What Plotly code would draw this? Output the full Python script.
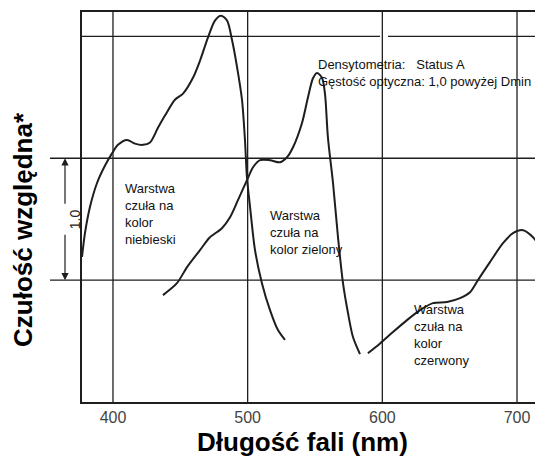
import plotly.graph_objects as go

# Spectral sensitivity curves (wavelength nm, relative log sensitivity)
blue_nm = [377.0, 379.2, 382.9, 388.1, 394.1, 399.3, 403.7, 410.4, 416.3, 422.3, 427.5, 433.4,
           438.6, 446.0, 452.0, 459.4, 464.6, 470.5, 475.7, 480.2, 484.7, 488.4, 492.1, 495.8,
           498.0, 499.5, 501.7, 505.4, 510.6, 516.6, 522.5, 527.7]
blue_s = [1.19, 1.385, 1.60, 1.795, 1.94, 2.04, 2.11, 2.15, 2.12, 2.11, 2.13, 2.25,
          2.35, 2.48, 2.53, 2.66, 2.80, 2.99, 3.13, 3.17, 3.13, 2.97, 2.75, 2.48,
          2.15, 1.84, 1.61, 1.25, 0.975, 0.754, 0.59, 0.51]

green_nm = [437.1, 447.5, 455.0, 464.6, 472.0, 480.9, 486.9, 492.8, 499.5, 504.0, 509.2, 516.6,
            524.0, 529.2, 533.7, 540.3, 544.8, 548.5, 551.5, 555.2, 557.4, 559.6, 563.4, 567.1,
            570.8, 574.5, 578.2, 583.4]
green_s = [0.877, 0.975, 1.107, 1.246, 1.352, 1.426, 1.516, 1.656, 1.82, 1.926, 1.984, 1.984,
           1.967, 2.008, 2.09, 2.287, 2.50, 2.656, 2.70, 2.66, 2.53, 2.17, 1.795, 1.35,
           0.975, 0.73, 0.533, 0.393]

red_nm = [589.3, 598.3, 607.9, 618.3, 628.0, 637.6, 648.0, 657.7, 665.1, 671.0, 679.9, 689.6,
          697.0, 704.5, 711.9, 718.6]
red_s = [0.40, 0.48, 0.574, 0.672, 0.754, 0.811, 0.82, 0.852, 0.90, 1.0, 1.148, 1.303,
         1.385, 1.41, 1.352, 1.246]

x_ticks = [400, 500, 600, 700]
h_lines = [1, 2, 3]

LINE = "#1e1e1e"
FONT = "Liberation Sans, Arial, sans-serif"

# page body has an 8px margin; compensate so the plot lands where the reference has it
OFF = 8
W, H = 543 - OFF, 459 - OFF
ML, MT, MB = 82 - OFF, 12 - OFF, 57
PW, PH = W - ML, H - MT - MB

fig = go.Figure()
for xs, ys in [(blue_nm, blue_s), (green_nm, green_s), (red_nm, red_s)]:
    fig.add_trace(go.Scatter(x=xs, y=ys, mode="lines",
                             line=dict(color=LINE, width=2, shape="spline", smoothing=0.8),
                             hoverinfo="skip", showlegend=False))

shapes = []
for v in x_ticks:
    shapes.append(dict(type="line", xref="x", yref="paper", x0=v, x1=v, y0=0, y1=1,
                       line=dict(color=LINE, width=1.3)))
for h in h_lines[:2]:
    shapes.append(dict(type="line", xref="paper", yref="y", x0=-32 / PW, x1=1, y0=h, y1=h,
                       line=dict(color=LINE, width=1.3)))
shapes.append(dict(type="line", xref="x", yref="y", x0=377, x1=598.3, y0=h_lines[2], y1=h_lines[2],
                   line=dict(color=LINE, width=1.3)))
shapes.append(dict(type="line", xref="x", yref="y", x0=604.2, x1=719.3, y0=h_lines[2], y1=h_lines[2],
                   line=dict(color=LINE, width=1.3)))

annotations = []
txt = dict(font=dict(family=FONT, size=13, color="#111"), showarrow=False,
           xanchor="left", yanchor="middle", align="left")

def px_x(p):
    return 400 + (p - 113) / 1.3467

def px_y(p):
    return (402 - p) / 122

def lbl(x, y, text):
    annotations.append(dict(x=px_x(x), y=px_y(y), xref="x", yref="y", text=text, **txt))

lbl(123, 214, "Warstwa<br>czuła na<br>kolor<br>niebieski")
lbl(268, 232, "Warstwa<br>czuła na<br>kolor zielony")
lbl(412, 335, "Warstwa<br>czuła na<br>kolor<br>czerwony")
lbl(316, 73, "Densytometria:   Status A<br>Gęstość optyczna: 1,0 powyżej Dmin")

# 1.0 scale arrow
ax_x = (65 - 82) / PW
annotations.append(dict(x=ax_x, y=2, xref="paper", yref="y", ax=0, ay=47, axref="pixel", ayref="pixel",
                        text="", showarrow=True, arrowhead=2, arrowsize=1.2, arrowwidth=1.2, arrowcolor=LINE))
annotations.append(dict(x=ax_x, y=1, xref="paper", yref="y", ax=0, ay=-47, axref="pixel", ayref="pixel",
                        text="", showarrow=True, arrowhead=2, arrowsize=1.2, arrowwidth=1.2, arrowcolor=LINE))
annotations.append(dict(x=ax_x, y=1.5, xref="paper", yref="y", text="1.0", textangle=-90,
                        showarrow=False, font=dict(family=FONT, size=14, color="#222")))

# axis titles
annotations.append(dict(x=(302 - 82) / PW, y=-(442 - 402) / PH, xref="paper", yref="paper",
                        text="<b>Długość fali (nm)</b>", showarrow=False,
                        font=dict(family=FONT, size=26, color="#000"), xanchor="center", yanchor="middle"))
annotations.append(dict(x=(23 - 82) / PW, y=(402 - 230) / PH, xref="paper", yref="paper",
                        text="<b>Czułość względna*</b>", showarrow=False, textangle=-90,
                        font=dict(family=FONT, size=26, color="#000"), xanchor="center", yanchor="middle"))

fig.update_layout(
    width=W, height=H,
    margin=dict(l=ML, r=0, t=MT, b=MB),
    paper_bgcolor="white", plot_bgcolor="white",
    shapes=shapes, annotations=annotations,
    xaxis=dict(range=[377.0, 719.3], tickvals=x_ticks, showgrid=False, zeroline=False,
               showline=True, mirror=True, linecolor=LINE, linewidth=1.5,
               ticks="", tickfont=dict(family=FONT, size=16, color="#444")),
    yaxis=dict(range=[0, 3.2], showgrid=False, zeroline=False, showticklabels=False,
               showline=True, linecolor=LINE, linewidth=1.5, ticks=""),
)

fig.write_html("out.html")
